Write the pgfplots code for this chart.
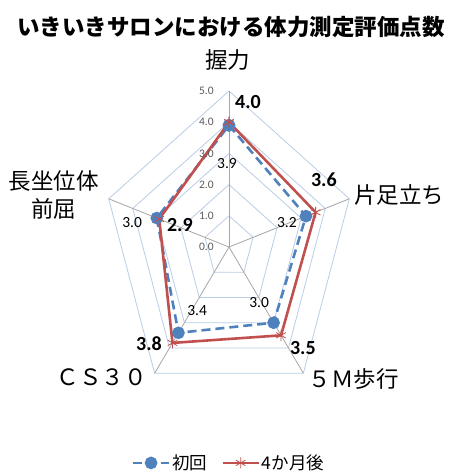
\documentclass[border=0pt]{standalone}
\usepackage{pgfplots}
\usepackage{pgfplotstable}
\pgfplotsset{compat=1.18}
\usepackage{fontspec}
\setmainfont{Carlito}
\newfontfamily\jp{Noto Sans CJK JP}
\definecolor{serblue}{HTML}{4F81BD}
\definecolor{serred}{HTML}{C0504D}
\definecolor{ringblue}{HTML}{B9CDE5}
\definecolor{spokegray}{HTML}{A6A6A6}
\definecolor{ticktext}{HTML}{595959}

% angle (deg) and score for each series; first row repeated to close the polygon
\pgfplotstableread{
a r
90 3.9
18 3.2
-54 3.0
-126 3.4
162 3.0
90 3.9
}\shokai
\pgfplotstableread{
a r
90 4.0
18 3.6
-54 3.5
-126 3.8
162 2.9
90 4.0
}\yonkagetsu
\pgfplotstableread{
a r
90 1
18 1
-54 1
-126 1
162 1
90 1
}\angles

\begin{document}
\begin{tikzpicture}
\begin{axis}[
  at={(229pt,225pt)}, anchor=center,
  scale only axis, width=354.2pt, height=436.8pt,
  xmin=-7, xmax=7, ymin=-7, ymax=7,
  hide axis, clip=false,
  legend columns=2,
  legend style={draw=none, fill=none, font=\jp\fontsize{17.5}{20}\selectfont,
    at={(axis cs:0,-6.92)}, anchor=center,
    /tikz/every even column/.append style={column sep=12pt}},
  legend image code/.code={\draw[mark repeat=2,mark phase=2,#1] plot coordinates {(0pt,0pt) (18pt,0pt) (36pt,0pt)};},
]
% grid rings
\pgfplotsinvokeforeach{1,2,3,4,5}{
  \addplot[ringblue, line width=0.8pt, forget plot] table[x expr={#1*cos(\thisrow{a})}, y expr={#1*sin(\thisrow{a})}] {\angles};
}
% spokes
\pgfplotsinvokeforeach{90,18,-54,-126,162}{
  \addplot[spokegray, line width=0.8pt, forget plot] table[row sep=\\, x expr={\thisrow{r}*cos(#1)}, y expr={\thisrow{r}*sin(#1)}] {a r\\0 0\\0 5\\};
}
\addplot[serblue, line width=2.6pt, dash pattern=on 9pt off 5pt, mark=*, mark size=5pt, mark options={solid, fill=serblue}]
  table[x expr={\thisrow{r}*cos(\thisrow{a})}, y expr={\thisrow{r}*sin(\thisrow{a})}] {\shokai};
\addlegendentry{初回}
\addplot[serred, line width=2.6pt, mark=asterisk, mark size=5.5pt, mark options={solid, line width=0.8pt}]
  table[x expr={\thisrow{r}*cos(\thisrow{a})}, y expr={\thisrow{r}*sin(\thisrow{a})}] {\yonkagetsu};
\addlegendentry{4か月後}

% tick labels
\pgfplotsinvokeforeach{0,1,2,3,4,5}{
  \node[anchor=east, text=ticktext, font=\fontsize{11.5}{13}\selectfont, inner sep=0pt] at (axis cs:-0.6,#1) {#1.0};
}
% data labels (初回)
\begin{scope}[every node/.style={font=\fontsize{15.5}{17}\selectfont, inner sep=0pt}]
\node at (axis cs:-0.08,2.69) {3.9};
\node at (axis cs:2.29,0.77) {3.2};
\node at (axis cs:1.19,-1.79) {3.0};
\node at (axis cs:-1.26,-2.05) {3.4};
\node at (axis cs:-3.83,0.77) {3.0};
\end{scope}
% data labels (4か月後)
\begin{scope}[every node/.style={font=\bfseries\fontsize{20}{22}\selectfont, inner sep=0pt}]
\node at (axis cs:0.75,4.65) {4.0};
\node at (axis cs:3.75,2.15) {3.6};
\node at (axis cs:2.92,-3.24) {3.5};
\node at (axis cs:-3.16,-3.11) {3.8};
\node at (axis cs:-1.94,0.71) {2.9};
\end{scope}
% category labels
\begin{scope}[every node/.style={font=\jp\fontsize{22.5}{28}\selectfont, inner sep=0pt, align=center}]
\node at (axis cs:-0.04,5.99) {握力};
\node at (axis cs:6.72,1.67) {片足立ち};
\node at (axis cs:4.94,-4.23) {５Ｍ歩行};
\node at (axis cs:-5.02,-4.17) {ＣＳ３０};
\node at (axis cs:-6.92,1.67) {長坐位体\\前屈};
\end{scope}
\end{axis}
\node[font=\jp\bfseries\fontsize{22.5}{28}\selectfont, inner sep=0pt] at (231pt,445pt) {いきいきサロンにおける体力測定評価点数};
\pgfresetboundingbox
\path[use as bounding box] (0pt,0pt) rectangle (450pt,472pt);
\end{tikzpicture}
\end{document}
